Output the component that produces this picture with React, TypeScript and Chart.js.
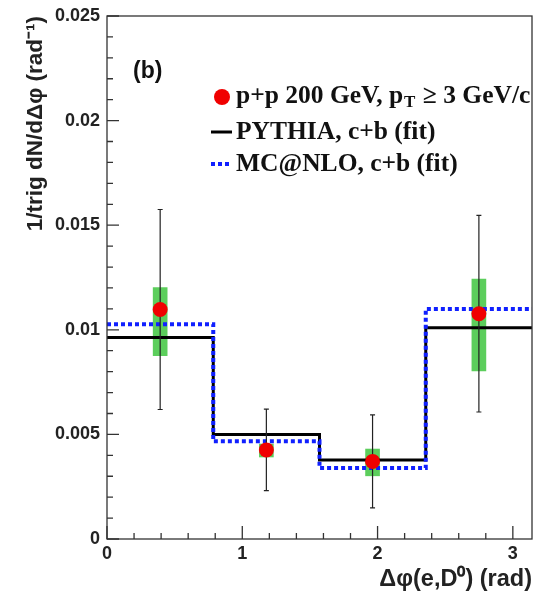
import React, { useEffect, useRef } from "react";
import { Chart, registerables } from "chart.js";

Chart.register(...registerables);

const PI = Math.PI;
// bin edges of the Δφ histogram
const binEdges = [0, PI / 4, PI / 2, (3 * PI) / 4, PI];
// data points
const binCenters = [0.393, 1.178, 1.963, 2.749];
const dataValues = [0.01097, 0.00426, 0.00371, 0.01077];
const statErr = [0.00478, 0.00195, 0.00222, 0.0047];
const sysLow = [0.00876, 0.00392, 0.00302, 0.00804];
const sysHigh = [0.01202, 0.00454, 0.0043, 0.01242];
// model curves (per bin)
const pythiaValues = [0.00963, 0.005, 0.00378, 0.0101];
const mcnloValues = [0.01027, 0.00467, 0.00339, 0.011];
// axes
const yMin = 0;
const yMax = 0.025;
const yStep = 0.005;
const yMinorStep = 0.001;
const xMin = 0;
const xMax = PI;
const xTickValues = [0, 1, 2, 3];
const xMinorStep = 0.2;

const legendLabels = ["p+p 200 GeV, p", "T", " \u2265 3 GeV/c", "PYTHIA, c+b (fit)", "MC@NLO, c+b (fit)"];
const panelLabel = "(b)";
const yTitle = "1/trig dN/d\u0394\u03c6 (rad\u207b\u00b9)";
const xTitle = "\u0394\u03c6(e,D\u2070) (rad)";

const RED = "#f00000";
const BLUE = "#1020ff";
const GREEN = "rgb(92,206,92)";

function stepPoints(vals: number[]) {
  const pts = vals.map((v, i) => ({ x: binEdges[i], y: v }));
  pts.push({ x: binEdges[binEdges.length - 1], y: vals[vals.length - 1] });
  return pts;
}

const errorBarPlugin = {
  id: "errorBars",
  beforeDatasetDraw(chart: any, args: any) {
    if (args.index !== 3) return;
    const { ctx, scales } = chart;
    const xs = scales.x;
    const ys = scales.y;
    ctx.save();
    ctx.strokeStyle = "#222";
    ctx.lineWidth = 1.2;
    binCenters.forEach((c, i) => {
      const px = xs.getPixelForValue(c);
      const top = ys.getPixelForValue(dataValues[i] + statErr[i]);
      const bot = ys.getPixelForValue(dataValues[i] - statErr[i]);
      ctx.beginPath();
      ctx.moveTo(px, top);
      ctx.lineTo(px, bot);
      ctx.moveTo(px - 2.5, top);
      ctx.lineTo(px + 2.5, top);
      ctx.moveTo(px - 2.5, bot);
      ctx.lineTo(px + 2.5, bot);
      ctx.stroke();
    });
    ctx.restore();
  },
};

const framePlugin = {
  id: "frameTicks",
  afterDatasetsDraw(chart: any) {
    const { ctx, chartArea: a, scales } = chart;
    const xs = scales.x;
    const ys = scales.y;
    ctx.save();
    ctx.strokeStyle = "#333";
    ctx.lineWidth = 1.3;
    ctx.strokeRect(a.left, a.top, a.right - a.left, a.bottom - a.top);
    ctx.beginPath();
    // y ticks
    const nY = Math.round((yMax - yMin) / yMinorStep);
    const perMajorY = Math.round(yStep / yMinorStep);
    for (let i = 0; i <= nY; i++) {
      const v = yMin + i * yMinorStep;
      const py = ys.getPixelForValue(v);
      const major = i % perMajorY === 0;
      ctx.moveTo(a.left, py);
      ctx.lineTo(a.left + (major ? 12 : 6), py);
    }
    // x ticks
    const nX = Math.floor((xMax - xMin) / xMinorStep + 1e-9);
    for (let i = 0; i <= nX; i++) {
      const v = xMin + i * xMinorStep;
      const px = xs.getPixelForValue(v);
      const major = xTickValues.some((t) => Math.abs(t - v) < 1e-9);
      ctx.moveTo(px, a.bottom);
      ctx.lineTo(px, a.bottom - (major ? 13 : 6));
    }
    ctx.stroke();
    ctx.restore();
  },
};

const legendPlugin = {
  id: "customLegend",
  afterDraw(chart: any) {
    const { ctx, chartArea: a } = chart;
    ctx.save();
    // panel label
    ctx.fillStyle = "#111";
    ctx.textBaseline = "middle";
    ctx.font = 'bold 23px "Liberation Sans", Arial, sans-serif';
    ctx.fillText(panelLabel, a.left + 26, a.top + 56);

    const symX = a.left + 115;
    const textX = a.left + 129;
    const row1 = a.top + 80;
    const row2 = a.top + 116;
    const row3 = a.top + 148;

    // marker
    ctx.fillStyle = RED;
    ctx.beginPath();
    ctx.arc(symX, row1 + 1, 8, 0, Math.PI * 2);
    ctx.fill();

    ctx.fillStyle = "#111";
    const big = 'bold 25.5px "Liberation Serif", "Times New Roman", serif';
    const small = 'bold 17px "Liberation Serif", "Times New Roman", serif';
    ctx.font = big;
    let x = textX;
    ctx.fillText(legendLabels[0], x, row1);
    x += ctx.measureText(legendLabels[0]).width + 1;
    ctx.font = small;
    ctx.fillText(legendLabels[1], x, row1 + 7);
    x += ctx.measureText(legendLabels[1]).width + 1;
    ctx.font = big;
    ctx.fillText(legendLabels[2], x, row1);

    // PYTHIA
    ctx.strokeStyle = "#000";
    ctx.lineWidth = 3;
    ctx.beginPath();
    ctx.moveTo(symX - 11, row2);
    ctx.lineTo(symX + 10, row2);
    ctx.stroke();
    ctx.fillText(legendLabels[3], textX, row2);

    // MC@NLO
    ctx.strokeStyle = BLUE;
    ctx.lineWidth = 4;
    ctx.setLineDash([4, 3]);
    ctx.beginPath();
    ctx.moveTo(symX - 11, row3);
    ctx.lineTo(symX + 10, row3);
    ctx.stroke();
    ctx.setLineDash([]);
    ctx.fillText(legendLabels[4], textX, row3);
    ctx.restore();
  },
};

export default function App() {
  const ref = useRef<HTMLCanvasElement | null>(null);
  useEffect(() => {
    document.body.style.margin = "0";
    const canvas = ref.current;
    if (!canvas) return;
    const tickFont = { family: '"Liberation Sans", Arial, sans-serif', size: 18, weight: "bold" as const };
    const titleFont = { family: '"Liberation Sans", Arial, sans-serif', size: 23.5, weight: "bold" as const };
    const chart = new Chart(canvas, {
      type: "scatter",
      data: {
        datasets: [
          {
            type: "line",
            label: "PYTHIA",
            data: stepPoints(pythiaValues),
            stepped: "before",
            borderColor: "#000",
            borderWidth: 3,
            pointRadius: 0,
            fill: false,
            order: 3,
          },
          {
            type: "line",
            label: "MC@NLO",
            data: stepPoints(mcnloValues),
            stepped: "before",
            borderColor: BLUE,
            borderWidth: 4,
            borderDash: [4, 3],
            pointRadius: 0,
            fill: false,
            order: 2,
          },
          {
            type: "bar",
            label: "sys",
            data: binCenters.map((c, i) => ({ x: c, y: [sysLow[i], sysHigh[i]] })),
            backgroundColor: GREEN,
            borderWidth: 0,
            barThickness: 14,
            order: 4,
          } as any,
          {
            type: "scatter",
            label: "data",
            data: binCenters.map((c, i) => ({ x: c, y: dataValues[i] })),
            pointRadius: 7.5,
            pointBackgroundColor: RED,
            pointBorderWidth: 0,
            order: 1,
          },
        ],
      },
      options: {
        responsive: false,
        animation: false,
        layout: { autoPadding: false, padding: { left: 0, right: 2, top: 16, bottom: 0 } },
        plugins: { legend: { display: false }, tooltip: { enabled: false } },
        scales: {
          x: {
            type: "linear",
            min: xMin,
            max: xMax,
            offset: false,
            grid: { display: false, drawTicks: false, tickLength: 0 },
            border: { display: false },
            afterBuildTicks: (s: any) => {
              s.ticks = xTickValues.map((v) => ({ value: v }));
            },
            afterFit: (s: any) => {
              s.height = 57;
              s.paddingLeft = 0;
              s.paddingRight = 0;
            },
            ticks: {
              autoSkip: false,
              maxRotation: 0,
              padding: 4,
              color: "#222",
              font: tickFont,
              callback: (v: any) => String(v),
            },
            title: {
              display: true,
              text: xTitle,
              align: "end",
              color: "#222",
              font: titleFont,
              padding: { top: 0, bottom: 2 },
            },
          },
          y: {
            type: "linear",
            min: yMin,
            max: yMax,
            grid: { display: false, drawTicks: false, tickLength: 0 },
            border: { display: false },
            afterFit: (s: any) => {
              s.width = 107;
              s.paddingTop = 0;
              s.paddingBottom = 0;
            },
            ticks: {
              stepSize: yStep,
              padding: 7,
              color: "#222",
              font: tickFont,
              callback: (v: any) => String(Math.round(Number(v) * 1000) / 1000),
            },
            title: {
              display: true,
              text: yTitle,
              align: "end",
              color: "#222",
              font: { ...titleFont, size: 22.5 },
              padding: { top: 22, bottom: 0 },
            },
          },
        },
      },
      plugins: [errorBarPlugin, framePlugin, legendPlugin],
    } as any);
    return () => chart.destroy();
  }, []);
  return <canvas ref={ref} width={534} height={596} style={{ display: "block" }} />;
}
